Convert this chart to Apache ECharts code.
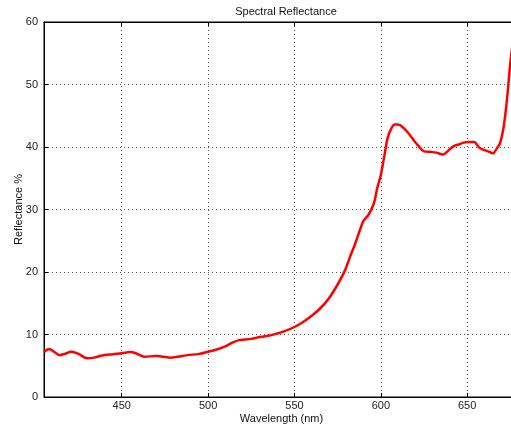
<!DOCTYPE html>
<html>
<head>
<meta charset="utf-8">
<script src="https://cdn.jsdelivr.net/npm/echarts@6/dist/echarts.min.js"></script>
<style>
  html, body { margin: 0; padding: 0; background: #fff; }
  #chart { width: 511px; height: 430px; }
</style>
</head>
<body>
<div id="chart"></div>
<script>
// Spectral reflectance measurement, wavelength in nm
const wavelength = [405, 408, 411, 414, 417, 421, 425, 430, 434, 438, 445, 450, 455, 459, 463, 470, 478, 488, 495, 500,
  505, 510, 514, 518, 525, 530, 535, 540, 544, 550, 555, 560, 565, 570, 575, 579, 582, 585, 588, 590,
  593, 596, 598, 600, 602, 604, 606, 608, 610, 613, 616, 619, 622, 625, 629, 632, 636, 639, 642, 645,
  648, 651, 654, 657, 660, 663, 665, 667, 669, 671, 673, 675, 677];
const reflectance = [7.2, 7.7, 7.2, 6.7, 6.9, 7.25, 6.9, 6.2, 6.3, 6.6, 6.85, 7.0, 7.2, 6.9, 6.45, 6.55, 6.3, 6.7, 6.9, 7.25,
  7.6, 8.1, 8.7, 9.1, 9.3, 9.6, 9.8, 10.15, 10.5, 11.2, 12.0, 13.0, 14.2, 15.8, 18.0, 20.1, 22.3, 24.4, 26.8, 28.2,
  29.2, 31.0, 33.5, 35.5, 38.5, 41.5, 42.9, 43.6, 43.6, 43.1, 42.2, 41.1, 40.1, 39.3, 39.2, 39.1, 38.8, 39.4, 40.1, 40.4,
  40.7, 40.8, 40.8, 39.9, 39.5, 39.2, 39.0, 39.7, 40.6, 43.0, 47.5, 53.5, 58.0];

const xMin = 405, xMax = 680;
const yMin = 0, yMax = 60, yStep = 10;

const chart = echarts.init(document.getElementById('chart'));
const font = 'Liberation Sans, Arial, Helvetica, sans-serif';
const dotted = { type: [1, 3], color: '#555', width: 1 };

chart.setOption({
  animation: false,
  backgroundColor: '#fff',
  title: {
    text: 'Spectral Reflectance',
    left: 281, top: 1, textAlign: 'center',
    textStyle: { fontFamily: font, fontSize: 11, fontWeight: 'normal', color: '#111' }
  },
  grid: {
    left: 44, top: 22, width: 475, height: 375,
    containLabel: false, outerBoundsMode: 'none',
    show: true, borderColor: '#000', borderWidth: 1
  },
  xAxis: [{
    type: 'value', min: xMin, max: xMax, splitNumber: 5,
    name: 'Wavelength (nm)', nameLocation: 'middle', nameGap: 16, nameMoveOverlap: false,
    nameTextStyle: { fontFamily: font, fontSize: 11, color: '#111' },
    axisLine: { show: true, lineStyle: { color: '#000', width: 1 } },
    axisTick: { show: true, inside: true, length: 4, lineStyle: { color: '#000' } },
    axisLabel: { fontFamily: font, fontSize: 11, color: '#222', margin: 3, showMinLabel: false, showMaxLabel: false },
    splitLine: { show: true, lineStyle: dotted }
  }, {
    type: 'value', min: xMin, max: xMax, splitNumber: 5, position: 'top',
    axisLine: { show: true, lineStyle: { color: '#000', width: 1 } },
    axisTick: { show: true, inside: true, length: 4, lineStyle: { color: '#000' } },
    axisLabel: { show: false },
    splitLine: { show: false }
  }],
  yAxis: {
    type: 'value', min: yMin, max: yMax, interval: yStep,
    name: 'Reflectance %', nameLocation: 'middle', nameGap: 20, nameRotate: 90, nameMoveOverlap: false,
    nameTextStyle: { fontFamily: font, fontSize: 11, color: '#111' },
    axisLine: { show: true, lineStyle: { color: '#000', width: 1 } },
    axisTick: { show: true, inside: true, length: 4, lineStyle: { color: '#000' } },
    axisLabel: { fontFamily: font, fontSize: 11, color: '#222', margin: 6 },
    splitLine: { show: true, lineStyle: dotted }
  },
  series: [{
    type: 'line',
    xAxisIndex: 0,
    data: wavelength.map((w, i) => [w, reflectance[i]]),
    smooth: 0.35,
    showSymbol: false,
    clip: true,
    lineStyle: { color: '#ff0000', width: 2.5 }
  }]
});
</script>
</body>
</html>
